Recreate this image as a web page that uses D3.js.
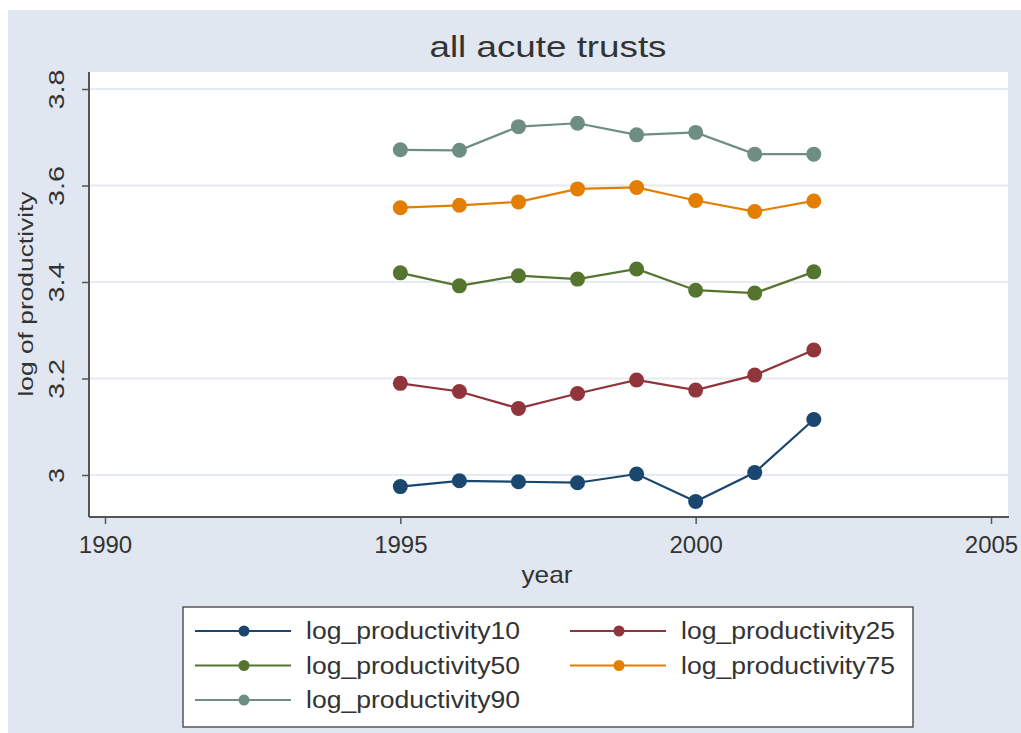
<!DOCTYPE html>
<html lang="en">
<head>
<meta charset="UTF-8">
<title>all acute trusts</title>
<script src="https://d3js.org/d3.v7.min.js"></script>
<style>
  body { margin: 0; background: #fff; }
  svg { display: block; font-family: "Liberation Sans", Arial, sans-serif; }
</style>
</head>
<body>
<div id="chart"></div>
<script>
// Data
const years = [1995, 1996, 1997, 1998, 1999, 2000, 2001, 2002];
const p10 = [2.976, 2.988, 2.986, 2.984, 3.002, 2.945, 3.005, 3.115];
const p25 = [3.190, 3.173, 3.138, 3.169, 3.197, 3.176, 3.207, 3.259];
const p50 = [3.419, 3.392, 3.413, 3.406, 3.427, 3.383, 3.377, 3.421];
const p75 = [3.554, 3.559, 3.566, 3.593, 3.596, 3.569, 3.546, 3.568];
const p90 = [3.674, 3.673, 3.722, 3.729, 3.705, 3.710, 3.665, 3.665];
const seriesNames = ["log_productivity10", "log_productivity25", "log_productivity50",
                     "log_productivity75", "log_productivity90"];
const seriesColors = ["#1a476f", "#90353b", "#55752f", "#e37e00", "#6e8e84"];
const xTicks = [1990, 1995, 2000, 2005];
const yTicks = [3, 3.2, 3.4, 3.6, 3.8];

const series = [p10, p25, p50, p75, p90].map((vals, i) => ({
  name: seriesNames[i], color: seriesColors[i],
  points: vals.map((v, j) => ({ year: years[j], value: v }))
}));

const W = 1021, H = 733;
const svg = d3.select("#chart").append("svg").attr("width", W).attr("height", H);

// outer panel
svg.append("rect").attr("x", 8).attr("y", 10).attr("width", W - 8).attr("height", H - 10)
  .attr("fill", "#e1e7f1");

const plot = { left: 89, top: 72, right: 1008, bottom: 517 };
svg.append("rect").attr("x", plot.left).attr("y", plot.top)
  .attr("width", plot.right - plot.left).attr("height", plot.bottom - plot.top)
  .attr("fill", "#fff");

const x = d3.scaleLinear().domain([1990, 2005]).range([105, 991]);
const y = d3.scaleLinear().domain([3, 3.8]).range([475, 89]);

// gridlines
svg.append("g").selectAll("line").data(yTicks).join("line")
  .attr("x1", plot.left).attr("x2", plot.right)
  .attr("y1", d => y(d)).attr("y2", d => y(d))
  .attr("stroke", "#e6eaf1").attr("stroke-width", 2);

// axes
const yAxis = svg.append("g").attr("transform", `translate(${plot.left},0)`)
  .call(d3.axisLeft(y).tickValues(yTicks).tickSize(7).tickFormat(d3.format("")));
yAxis.select(".domain").attr("d", `M0,${plot.top}V${plot.bottom}`).attr("stroke", "#555").attr("stroke-width", 2);
yAxis.selectAll(".tick line").attr("stroke", "#555").attr("stroke-width", 1.5);
yAxis.selectAll(".tick text")
  .attr("x", 0).attr("dy", 0)
  .attr("transform", "translate(-25,0) rotate(-90)")
  .attr("text-anchor", "middle")
  .attr("font-size", 22).attr("fill", "#333")
  .attr("textLength", d => d === 3 ? 15 : 40).attr("lengthAdjust", "spacingAndGlyphs");

const xAxis = svg.append("g").attr("transform", `translate(0,${plot.bottom})`)
  .call(d3.axisBottom(x).tickValues(xTicks).tickSize(7).tickFormat(d3.format("d")));
xAxis.select(".domain").attr("d", `M${plot.left},0H${plot.right + 1}`).attr("stroke", "#555").attr("stroke-width", 2);
xAxis.selectAll(".tick line").attr("stroke", "#555").attr("stroke-width", 1.5);
xAxis.selectAll(".tick text").attr("y", 36).attr("dy", 0).attr("font-size", 24).attr("fill", "#333");

// titles
svg.append("text").attr("x", 548).attr("y", 57).attr("text-anchor", "middle")
  .attr("font-size", 30).attr("fill", "#333")
  .attr("textLength", 237).attr("lengthAdjust", "spacingAndGlyphs").text("all acute trusts");
svg.append("text").attr("x", 547).attr("y", 583).attr("text-anchor", "middle")
  .attr("font-size", 24).attr("fill", "#333")
  .attr("textLength", 51).attr("lengthAdjust", "spacingAndGlyphs").text("year");
svg.append("text").attr("transform", "translate(33,294) rotate(-90)")
  .attr("text-anchor", "middle").attr("font-size", 21).attr("fill", "#333")
  .attr("textLength", 205).attr("lengthAdjust", "spacingAndGlyphs")
  .text("log of productivity");

// lines and markers
const line = d3.line().x(d => x(d.year)).y(d => y(d.value));
const g = svg.append("g");
series.forEach(s => {
  g.append("path").datum(s.points).attr("d", line)
    .attr("fill", "none").attr("stroke", s.color).attr("stroke-width", 2.2);
  g.selectAll(null).data(s.points).join("circle")
    .attr("cx", d => x(d.year)).attr("cy", d => y(d.value)).attr("r", 7.5)
    .attr("fill", s.color);
});

// legend
const leg = svg.append("g");
leg.append("rect").attr("x", 183).attr("y", 607).attr("width", 730).attr("height", 120)
  .attr("fill", "#fff").attr("stroke", "#555").attr("stroke-width", 1.5);
series.forEach((s, i) => {
  const col = i % 2, row = Math.floor(i / 2);
  const lx = 195 + col * 375, ly = 631 + row * 34.5;
  leg.append("line").attr("x1", lx).attr("x2", lx + 96).attr("y1", ly).attr("y2", ly)
    .attr("stroke", s.color).attr("stroke-width", 2);
  leg.append("circle").attr("cx", lx + 49).attr("cy", ly).attr("r", 5.5).attr("fill", s.color);
  leg.append("text").attr("x", lx + 111).attr("y", ly + 8).attr("font-size", 23)
    .attr("fill", "#333").attr("textLength", 214).attr("lengthAdjust", "spacingAndGlyphs")
    .text(s.name);
});
</script>
</body>
</html>
